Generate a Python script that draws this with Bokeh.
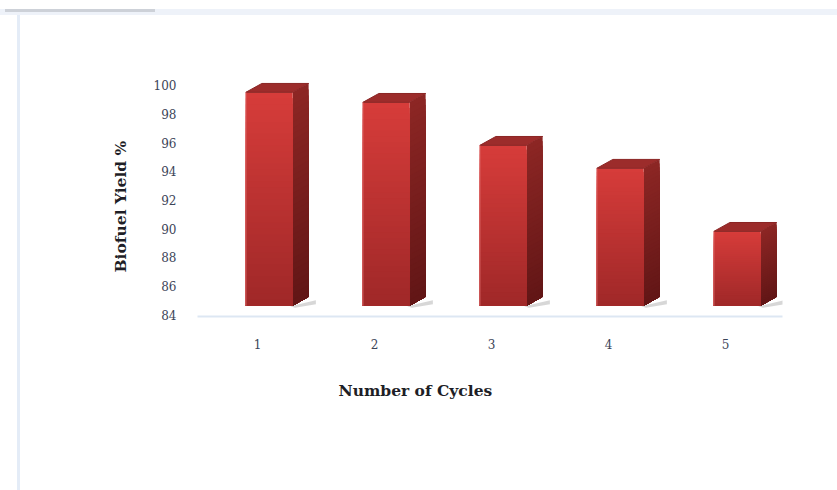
import numpy as np
from bokeh.plotting import figure
from bokeh.models import FixedTicker, Title
from bokeh.embed import file_html
from bokeh.resources import INLINE

# Biofuel yield over repeated catalyst cycles
cycles = [1, 2, 3, 4, 5]
cycle_labels = ["1", "2", "3", "4", "5"]
yield_pct = [99.5, 98.8, 95.8, 94.2, 89.8]
y_ticks = [84, 86, 88, 90, 92, 94, 96, 98, 100]

SERIF = "DejaVu Serif"

p = figure(
    width=837, height=490,
    x_range=(0.487, 5.487), y_range=(83.863, 101.72),
    output_backend="svg", toolbar_location=None,
    min_border_left=197, min_border_right=55,
    min_border_top=60, min_border_bottom=174,
)
p.outline_line_color = None
p.xgrid.visible = False
p.ygrid.visible = False
p.background_fill_color = "white"
p.border_fill_color = None
# white page with the thin chart-area border strips along the top and left
p.styles = {
    "background": (
        "linear-gradient(#cdd1d8,#cdd1d8) 5px 9px / 150px 3px no-repeat,"
        "linear-gradient(#eef2f9,#eef2f9) 0px 9px / 837px 6px no-repeat,"
        "linear-gradient(#e4ecf7,#e4ecf7) 17px 12px / 3px 478px no-repeat,"
        "white"
    )
}

# axes
p.xaxis.ticker = FixedTicker(ticks=cycles)
p.xaxis.major_label_overrides = {c: l for c, l in zip(cycles, cycle_labels)}
p.xaxis.axis_line_color = "#dde7f3"
p.xaxis.axis_line_width = 2
p.xaxis.major_tick_line_color = None
p.xaxis.minor_tick_line_color = None
p.xaxis.major_label_standoff = 16
p.xaxis.major_label_text_font = SERIF
p.xaxis.major_label_text_font_size = "12px"
p.xaxis.major_label_text_color = "#3c4458"

p.yaxis.ticker = FixedTicker(ticks=y_ticks)
p.yaxis.axis_line_color = None
p.yaxis.major_tick_line_color = None
p.yaxis.minor_tick_line_color = None
p.yaxis.major_label_standoff = 15
p.yaxis.major_label_text_font = SERIF
p.yaxis.major_label_text_font_size = "12px"
p.yaxis.major_label_text_color = "#3c4458"

# axis titles
p.add_layout(Title(text="Biofuel Yield %", align="left", offset=44, standoff=42,
                   text_font=SERIF, text_font_style="bold",
                   text_font_size="15.5px", text_color="#1e1e26"), "left")
p.add_layout(Title(text="Number of Cycles", align="left", offset=141, standoff=54,
                   text_font=SERIF, text_font_style="bold",
                   text_font_size="15.5px", text_color="#1e1e26"), "below")

# 3-D column geometry (data units)
shift = 0.1            # columns sit slightly right of their tick
half_w = 0.2           # half width of the front face
dx, dy = 0.137, 0.62   # depth offset of side / top faces
base = 84.62           # front floor of the columns
n_steps = 36


def mix(c0, c1, t):
    return "#%02x%02x%02x" % tuple(int(round(a + (b - a) * t)) for a, b in zip(c0, c1))


front_top, front_bot = (214, 60, 58), (160, 40, 40)
side_top, side_bot = (140, 38, 36), (98, 22, 22)

# floor shadows
sx, sy = [], []
for c in cycles:
    xr = c + shift + half_w
    sx.append([xr - 0.02, xr + dx * 1.45, xr + dx * 1.45, xr + 0.02])
    sy.append([base - 0.05, base + dy * 0.6, base + dy * 0.15, base - 0.15])
p.patches(sx, sy, fill_color="#b0b0b0", fill_alpha=0.5, line_color=None)

# vertical gradients: overlapping layers, each one reaching down to the floor,
# drawn from the tallest (top colour) to the shortest (bottom colour)
fl, fr, fb, ft, fc = [], [], [], [], []
px, py, pc = [], [], []
for i in range(n_steps):
    t = i / (n_steps - 1)
    for c, v in zip(cycles, yield_pct):
        xl = c + shift - half_w
        xr = c + shift + half_w
        top = v - (v - base) * i / n_steps
        fl.append(xl)
        fr.append(xr)
        fb.append(base)
        ft.append(top)
        fc.append(mix(front_top, front_bot, t))
        px.append([xr, xr + dx, xr + dx, xr])
        py.append([base, base + dy, top + dy, top])
        pc.append(mix(side_top, side_bot, t))

p.patches(px, py, fill_color=pc, line_color=None)
p.quad(left=fl, right=fr, bottom=fb, top=ft, fill_color=fc, line_color=None)

# top faces
tx, ty = [], []
for c, v in zip(cycles, yield_pct):
    xl = c + shift - half_w
    xr = c + shift + half_w
    tx.append([xl, xl + dx, xr + dx, xr])
    ty.append([v, v + dy, v + dy, v])
p.patches(tx, ty, fill_color="#9c2c2b", line_color="#8a2423", line_width=1)

# lighter edge on the left of each front face
p.segment(x0=[c + shift - half_w for c in cycles], y0=[base] * len(cycles),
          x1=[c + shift - half_w for c in cycles], y1=yield_pct,
          line_color="#e07070", line_width=1.2, line_alpha=0.8)

open("out.html", "w").write(file_html(p, INLINE))
